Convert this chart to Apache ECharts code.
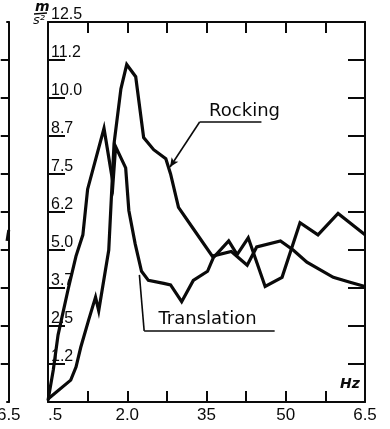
<!DOCTYPE html>
<html>
<head>
<meta charset="utf-8">
<script src="https://cdn.jsdelivr.net/npm/echarts@6/dist/echarts.min.js"></script>
<style>
  html, body { margin: 0; padding: 0; background: #fff; }
  #chart { width: 390px; height: 429px; }
</style>
</head>
<body>
<div id="chart"></div>
<script>
// Frequency (Hz) and acceleration (m/s²) for the two response curves
const rockingFreq = [0.5, 0.93, 1.03, 1.12, 1.27, 1.4, 1.46, 1.65, 1.75, 1.88, 1.99, 2.16, 2.31, 2.5, 2.73, 2.82, 2.97, 3.25, 3.61, 3.97, 4.27, 4.45, 4.9, 5.14, 5.4, 5.9, 6.2, 6.5];
const rockingAcc  = [0.1, 0.72, 1.15, 1.8, 2.7, 3.45, 3.0, 5.0, 8.5, 10.3, 11.1, 10.7, 8.7, 8.3, 8.0, 7.5, 6.4, 5.7, 4.8, 4.95, 4.5, 5.1, 5.3, 5.0, 4.6, 4.1, 3.95, 3.8];

const translationFreq = [0.5, 0.6, 0.69, 0.88, 1.03, 1.16, 1.25, 1.56, 1.73, 1.78, 1.97, 2.03, 2.15, 2.27, 2.4, 2.69, 2.82, 3.03, 3.25, 3.52, 3.63, 3.92, 4.08, 4.29, 4.61, 4.93, 5.27, 5.61, 5.99, 6.5];
const translationAcc  = [0.05, 1.05, 2.2, 3.7, 4.8, 5.5, 7.0, 9.0, 7.2, 8.4, 7.7, 6.3, 5.2, 4.3, 4.0, 3.9, 3.85, 3.3, 4.0, 4.3, 4.75, 5.3, 4.85, 5.4, 3.8, 4.1, 5.9, 5.5, 6.2, 5.5];

// Right edge of the neighbouring panel (only its last few hertz are on the page)
const neighbourFreq = [6.37, 6.5];
const neighbourAcc  = [5.3, 5.66];

// Axis ticks and labels
const xTickValues  = [1.25, 2.0, 2.75, 3.5, 4.25, 5.0, 5.75];
const xLabelValues = [0.5, 2.0, 3.5, 5.0, 6.5];
const xLabelTexts  = ['.5', '2.0', '35', '50', '6.5'];
const yTickValues  = [1.25, 2.5, 3.75, 5.0, 6.25, 7.5, 8.75, 10.0, 11.25];
const yLabelValues = [1.25, 2.5, 3.75, 5.0, 6.25, 7.5, 8.75, 10.0, 11.25, 12.5];
const yLabelTexts  = ['1.2', '2.5', '3.7', '5.0', '6.2', '7.5', '8.7', '10.0', '11.2', '12.5'];

const pairs = (xs, ys) => xs.map((x, i) => [x, ys[i]]);
const lookup = (vals, texts) => v => {
  const i = vals.findIndex(t => Math.abs(t - v) < 1e-6);
  return i < 0 ? '' : texts[i];
};

const INK = '#0a0a0a';
const axisLine = { show: true, onZero: false, lineStyle: { color: INK, width: 2 } };
const tickStyle = { color: INK, width: 2 };
const tickFont = 'Liberation Sans, Arial, sans-serif';
const noteFont = 'DejaVu Sans, sans-serif';

const chart = echarts.init(document.getElementById('chart'), null, { renderer: 'canvas' });

chart.setOption({
  backgroundColor: '#ffffff',
  animation: false,
  grid: [
    { left: 48, top: 22, width: 317, height: 380 },
    { left: 0, top: 22, width: 7, height: 380 }
  ],
  xAxis: [
    {
      gridIndex: 0, type: 'value', min: 0.5, max: 6.5, position: 'bottom',
      axisLine,
      axisTick: { show: true, inside: true, length: 11, lineStyle: tickStyle, customValues: xTickValues },
      axisLabel: {
        show: true, customValues: xLabelValues, formatter: lookup(xLabelValues, xLabelTexts),
        color: INK, fontSize: 17, fontFamily: tickFont, margin: 5, alignMinLabel: 'left'
      },
      splitLine: { show: false }
    },
    {
      gridIndex: 0, type: 'value', min: 0.5, max: 6.5, position: 'top',
      axisLine,
      axisTick: { show: true, inside: true, length: 11, lineStyle: tickStyle, customValues: xTickValues },
      axisLabel: { show: false },
      splitLine: { show: false }
    },
    {
      gridIndex: 1, type: 'value', min: 6.37, max: 6.5, position: 'bottom',
      axisLine,
      axisTick: { show: false },
      axisLabel: {
        show: true, customValues: [6.5], formatter: () => '6.5',
        color: INK, fontSize: 17, fontFamily: tickFont, margin: 5
      },
      splitLine: { show: false }
    },
    {
      gridIndex: 1, type: 'value', min: 6.37, max: 6.5, position: 'top',
      axisLine, axisTick: { show: false }, axisLabel: { show: false }, splitLine: { show: false }
    }
  ],
  yAxis: [
    {
      gridIndex: 0, type: 'value', min: 0, max: 12.5, position: 'left',
      axisLine,
      axisTick: { show: true, inside: true, length: 17, lineStyle: tickStyle, customValues: yTickValues },
      axisLabel: {
        show: true, inside: true, customValues: yLabelValues, formatter: lookup(yLabelValues, yLabelTexts),
        color: INK, fontSize: 16, fontFamily: tickFont, margin: 3,
        verticalAlign: 'bottom', lineHeight: 14
      },
      splitLine: { show: false }
    },
    {
      gridIndex: 0, type: 'value', min: 0, max: 12.5, position: 'right',
      axisLine,
      axisTick: { show: true, inside: true, length: 17, lineStyle: tickStyle, customValues: yTickValues },
      axisLabel: { show: false },
      splitLine: { show: false }
    },
    {
      gridIndex: 1, type: 'value', min: 0, max: 12.5, position: 'right',
      axisLine,
      axisTick: { show: true, inside: true, length: 8, lineStyle: tickStyle, customValues: yTickValues },
      axisLabel: { show: false },
      splitLine: { show: false }
    }
  ],
  series: [
    {
      name: 'Rocking', type: 'line', xAxisIndex: 0, yAxisIndex: 0,
      data: pairs(rockingFreq, rockingAcc),
      showSymbol: false, symbol: 'none',
      lineStyle: { color: INK, width: 3.2, join: 'miter' },
      markLine: {
        silent: true, symbol: 'none', animation: false,
        lineStyle: { color: INK, width: 1.6, type: 'solid' },
        label: { show: false },
        data: [
          [{ coord: [3.37, 9.21] }, { coord: [4.54, 9.21] }],
          [{ coord: [3.37, 9.21], symbol: 'none' }, { coord: [2.81, 7.73], symbol: 'arrow', symbolSize: [6, 9] }]
        ]
      },
      markPoint: {
        silent: true, symbol: 'circle', symbolSize: 0,
        label: { show: true, position: 'inside', formatter: 'Rocking', color: INK, fontSize: 18, fontFamily: noteFont },
        data: [{ coord: [4.22, 9.57] }]
      }
    },
    {
      name: 'Translation', type: 'line', xAxisIndex: 0, yAxisIndex: 0,
      data: pairs(translationFreq, translationAcc),
      showSymbol: false, symbol: 'none',
      lineStyle: { color: INK, width: 3.2, join: 'miter' },
      markLine: {
        silent: true, symbol: 'none', animation: false,
        lineStyle: { color: INK, width: 1.6, type: 'solid' },
        label: { show: false },
        data: [
          [{ coord: [2.32, 2.34] }, { coord: [4.79, 2.34] }],
          [{ coord: [2.32, 2.34] }, { coord: [2.23, 4.18] }]
        ]
      },
      markPoint: {
        silent: true, symbol: 'circle', symbolSize: 0,
        label: { show: true, position: 'inside', formatter: 'Translation', color: INK, fontSize: 18, fontFamily: noteFont },
        data: [{ coord: [3.52, 2.73] }]
      }
    },
    {
      name: 'neighbour', type: 'line', xAxisIndex: 2, yAxisIndex: 2,
      data: pairs(neighbourFreq, neighbourAcc),
      showSymbol: false, symbol: 'none',
      lineStyle: { color: INK, width: 3 }
    }
  ],
  graphic: [
    // unit of the vertical axis, m over s²
    { type: 'text', left: 35, top: 0, style: { text: 'm', font: 'bold italic 14px DejaVu Sans', fill: INK } },
    { type: 'line', shape: { x1: 34, y1: 14, x2: 47, y2: 13 }, style: { stroke: INK, lineWidth: 1.6 } },
    { type: 'text', left: 33, top: 14, style: { text: 's²', font: 'italic 13px DejaVu Sans', fill: INK } },
    // unit of the horizontal axis
    { type: 'text', left: 340, top: 377, style: { text: 'Hz', font: 'bold italic 14px DejaVu Sans', fill: INK } }
  ]
});
</script>
</body>
</html>
